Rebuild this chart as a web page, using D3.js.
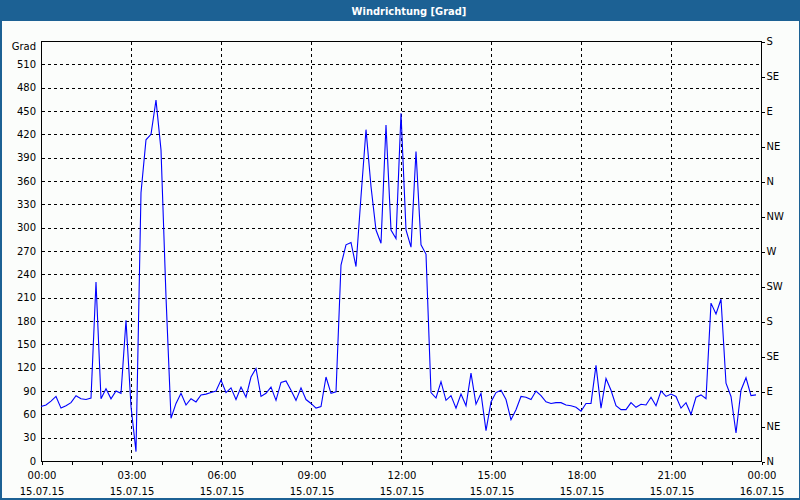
<!DOCTYPE html>
<html><head><meta charset="utf-8">
<script src="https://cdn.jsdelivr.net/npm/d3@7"></script>
<style>
html,body{margin:0;padding:0;background:#fff;}
svg{display:block;}
text{font-family:"DejaVu Sans",sans-serif;font-size:10px;fill:#000;}
</style></head>
<body>
<script>
// ---- data (10‑minute samples, 15.07.15 00:00 – 23:50) ----
const title = "Windrichtung [Grad]";
const yUnit = "Grad";
const values = [70,72,77,83,68,71,75,84,80,79,
  81,230,80,93,80,90,87,181,70,12,
  345,413,420,464,400,211,55,74,87,72,
  80,76,85,86,88,90,104,88,94,79,
  95,82,108,119,83,87,95,78,101,103,
  91,78,94,79,74,68,70,108,87,89,
  252,278,281,250,340,426,353,297,280,432,
  297,286,447,297,275,398,278,266,88,81,
  102,78,84,68,86,71,113,73,87,39,
  76,88,91,79,53,66,83,82,79,90,
  84,76,74,75,75,72,71,69,64,74,
  74,123,68,106,91,71,66,66,75,69,
  73,72,82,71,90,83,86,83,68,75,
  60,82,85,80,203,189,208,100,83,36,
  91,107,84,85];
const stepMinutes = 10;
const leftTicks = [0,30,60,90,120,150,180,210,240,270,300,330,360,390,420,450,480,510];
const rightTickValues = [0,45,90,135,180,225,270,315,360,405,450,495,540];
const rightTickLabels = ["N","NE","E","SE","S","SW","W","NW","N","NE","E","SE","S"];
const timeTickHours = [0,3,6,9,12,15,18,21,24];
const timeLabels = ["00:00","03:00","06:00","09:00","12:00","15:00","18:00","21:00","00:00"];
const dateLabels = ["15.07.15","15.07.15","15.07.15","15.07.15","15.07.15","15.07.15","15.07.15","15.07.15","16.07.15"];

const W = 800, H = 500;
const svg = d3.select("body").append("svg").attr("width", W).attr("height", H);

// frame
svg.append("rect").attr("x",0).attr("y",0).attr("width",W).attr("height",H).attr("fill","#1c6194");
svg.append("rect").attr("x",2).attr("y",21).attr("width",W-3).attr("height",H-23).attr("fill","#fbfdfb");
svg.append("text").attr("x",409).attr("y",14.5).attr("text-anchor","middle")
  .style("font-family","'DejaVu Sans Condensed','DejaVu Sans',sans-serif")
  .style("font-weight","bold").style("font-size","11px").style("fill","#fff").text(title);

const L = 41, R = 761, T = 41, B = 461;
const x = d3.scaleLinear().domain([0,24*60]).range([L,R]);
const y = d3.scaleLinear().domain([0,540]).range([B,T]);

const g = svg.append("g").attr("transform","translate(0.5,0.5)");

// horizontal grid
g.selectAll(".hg").data(leftTicks.filter(v=>v>0)).enter().append("line")
  .attr("x1",L).attr("x2",R).attr("y1",d=>Math.round(y(d))).attr("y2",d=>Math.round(y(d)))
  .attr("stroke","#000").attr("stroke-dasharray","3,3").attr("shape-rendering","crispEdges");
// vertical grid
g.selectAll(".vg").data(timeTickHours.slice(1,-1)).enter().append("line")
  .attr("y1",T).attr("y2",B).attr("x1",d=>Math.round(x(d*60))).attr("x2",d=>Math.round(x(d*60)))
  .attr("stroke","#000").attr("stroke-dasharray","3,3").attr("shape-rendering","crispEdges");

// box
g.append("rect").attr("x",L).attr("y",T).attr("width",R-L).attr("height",B-T)
  .attr("fill","none").attr("stroke","#000").attr("shape-rendering","crispEdges");

// left axis
const la = d3.axisLeft(y).tickValues(leftTicks).tickSize(0).tickPadding(5);
const lg = svg.append("g").attr("transform",`translate(${L},0)`).call(la);
lg.select(".domain").remove();
lg.selectAll("text").style("font-family","'DejaVu Sans',sans-serif").style("font-size","10px").attr("fill","#000");
svg.append("text").attr("x",36).attr("y",50).attr("text-anchor","end").text(yUnit);

// right axis
const ra = d3.axisRight(y).tickValues(rightTickValues).tickFormat((d,i)=>rightTickLabels[i]).tickSize(3).tickPadding(2);
const rg = svg.append("g").attr("transform",`translate(${R+0.5},0.5)`).call(ra);
rg.select(".domain").remove();
rg.selectAll("line").attr("stroke","#000").attr("shape-rendering","crispEdges");
rg.selectAll("text").style("font-family","'DejaVu Sans',sans-serif").style("font-size","10px").attr("fill","#000");

// bottom axis: minor hourly ticks + labels
const hours = d3.range(0,25);
const ba = d3.axisBottom(x).tickValues(hours.map(h=>h*60)).tickSize(3).tickFormat("");
const bg = svg.append("g").attr("transform",`translate(0.5,${B+0.5})`).call(ba);
bg.select(".domain").remove();
bg.selectAll("line").attr("stroke","#000").attr("shape-rendering","crispEdges");
const lab = svg.append("g");
lab.selectAll(".tl").data(timeTickHours).enter().append("text")
  .attr("x",d=>x(d*60)+1).attr("y",479).attr("text-anchor","middle").text((d,i)=>timeLabels[i]);
lab.selectAll(".dl").data(timeTickHours).enter().append("text")
  .attr("x",d=>x(d*60)+1).attr("y",495).attr("text-anchor","middle").text((d,i)=>dateLabels[i]);

// data line
const line = d3.line().x((d,i)=>x(i*stepMinutes)).y(d=>y(d));
svg.append("path").datum(values).attr("d",line).attr("fill","none")
  .attr("stroke","#0000ff").attr("stroke-width",1.1).attr("transform","translate(0,0)");
</script>
</body></html>
